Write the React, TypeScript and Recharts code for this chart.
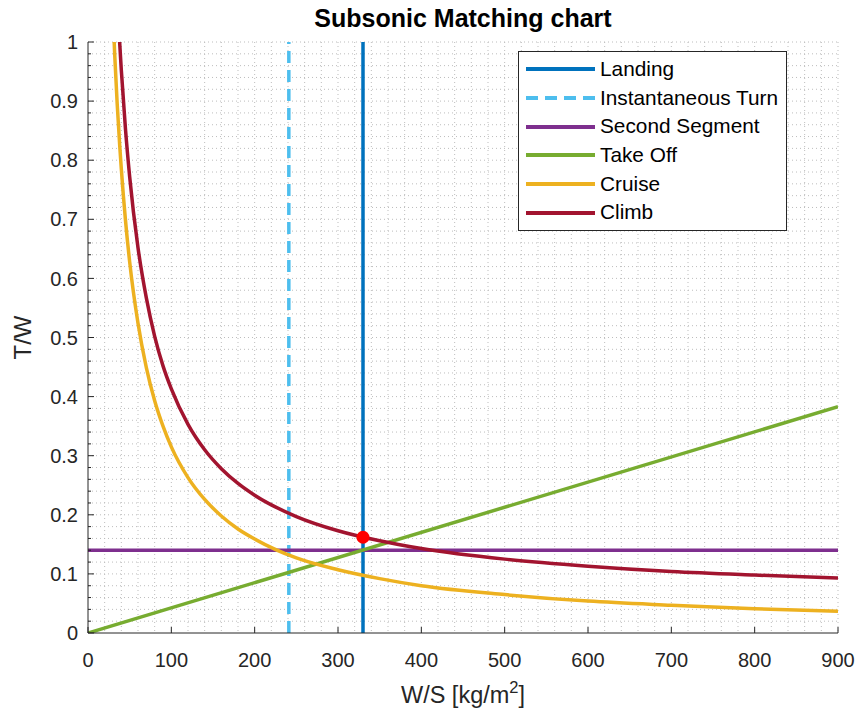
import React from 'react';
import { LineChart, Line, XAxis, YAxis, CartesianGrid, Legend, ReferenceDot, Label } from 'recharts';

const FONT = '"Liberation Sans", Arial, Helvetica, sans-serif';
const AXIS_COLOR = '#262626';

// ---- Data ----
const curveWS = [29, 32, 35, 38, 40, 45, 50, 60, 70, 80, 90, 100, 120, 140, 160, 180, 200, 250, 300, 350, 400, 500, 600, 700, 800, 900];
const cruiseTW = [1.082, 0.98, 0.896, 0.826, 0.785, 0.698, 0.628, 0.524, 0.449, 0.393, 0.35, 0.315, 0.263, 0.226, 0.198, 0.176, 0.159, 0.127, 0.107, 0.092, 0.08, 0.065, 0.054, 0.047, 0.041, 0.037];
const climbTW = [1.293, 1.176, 1.08, 0.999, 0.952, 0.852, 0.772, 0.652, 0.567, 0.502, 0.452, 0.413, 0.353, 0.31, 0.278, 0.253, 0.233, 0.197, 0.173, 0.156, 0.143, 0.125, 0.113, 0.104, 0.098, 0.093];
const takeOffWS = [0, 900];
const takeOffTW = [0, 0.383];
const secondSegmentWS = [0, 900];
const secondSegmentTW = [0.14, 0.14];
const landingWS = [330, 330];
const landingTW = [0, 1];
const turnWS = [241, 241];
const turnTW = [0, 1];
const designPointWS = 330;
const designPointTW = 0.162;

// ---- Ticks / grid values ----
const xTicks = [0, 100, 200, 300, 400, 500, 600, 700, 800, 900];
const yTicks = [0, 0.02, 0.04, 0.06, 0.08, 0.1, 0.12, 0.14, 0.16, 0.18, 0.2, 0.22, 0.24, 0.26, 0.28, 0.3, 0.32, 0.34, 0.36, 0.38, 0.4, 0.42, 0.44, 0.46, 0.48, 0.5, 0.52, 0.54, 0.56, 0.58, 0.6, 0.62, 0.64, 0.66, 0.68, 0.7, 0.72, 0.74, 0.76, 0.78, 0.8, 0.82, 0.84, 0.86, 0.88, 0.9, 0.92, 0.94, 0.96, 0.98, 1];
const xGridValues = [20, 40, 60, 80, 100, 120, 140, 160, 180, 200, 220, 240, 260, 280, 300, 320, 340, 360, 380, 400, 420, 440, 460, 480, 500, 520, 540, 560, 580, 600, 620, 640, 660, 680, 700, 720, 740, 760, 780, 800, 820, 840, 860, 880, 900];
const yGridValues = yTicks.filter((v) => v > 0);

const toPoints = (xs: number[], ys: number[]) => xs.map((x, i) => ({ x, y: ys[i] }));

const series = [
  { name: 'Landing', color: '#0072BD', dash: undefined as string | undefined, data: toPoints(landingWS, landingTW), curve: 'linear' },
  { name: 'Instantaneous Turn', color: '#4DBEEE', dash: '12 7', data: toPoints(turnWS, turnTW), curve: 'linear' },
  { name: 'Second Segment', color: '#7E2F8E', dash: undefined, data: toPoints(secondSegmentWS, secondSegmentTW), curve: 'linear' },
  { name: 'Take Off', color: '#77AC30', dash: undefined, data: toPoints(takeOffWS, takeOffTW), curve: 'linear' },
  { name: 'Cruise', color: '#EDB120', dash: undefined, data: toPoints(curveWS, cruiseTW), curve: 'monotone' },
  { name: 'Climb', color: '#A2142F', dash: undefined, data: toPoints(curveWS, climbTW), curve: 'monotone' },
];

const X_TICK_MARGIN = 20;
const Y_TICK_MARGIN = 10;

const XTick = (props: any) => {
  const { x, y, payload } = props;
  const axisY = y - X_TICK_MARGIN;
  return (
    <g>
      <line x1={x} x2={x} y1={axisY} y2={axisY - 6} stroke={AXIS_COLOR} strokeWidth={1} />
      <text x={x} y={y} dy="0.71em" textAnchor="middle" fontSize={20} fontFamily={FONT} fill={AXIS_COLOR}>
        {payload.value}
      </text>
    </g>
  );
};

const YTick = (props: any) => {
  const { x, y, payload } = props;
  const v = payload.value as number;
  const axisX = x + Y_TICK_MARGIN;
  const major = Math.abs(v * 10 - Math.round(v * 10)) < 1e-6;
  return (
    <g>
      <line x1={axisX} x2={axisX + (major ? 6 : 3)} y1={y} y2={y} stroke={AXIS_COLOR} strokeWidth={1} />
      {major && (
        <text x={x} y={y} dy="0.355em" textAnchor="end" fontSize={20} fontFamily={FONT} fill={AXIS_COLOR}>
          {String(Math.round(v * 10) / 10)}
        </text>
      )}
    </g>
  );
};

const LegendBox = () => (
  <div
    style={{
      border: '1px solid #262626',
      background: '#fff',
      padding: '3px 0',
      width: 269,
      boxSizing: 'border-box',
    }}
  >
    {series.map((s) => (
      <div key={s.name} style={{ display: 'flex', alignItems: 'center', height: 28.7 }}>
        <svg width={76} height={10} style={{ display: 'block' }}>
          <line x1={7} x2={76} y1={5} y2={5} stroke={s.color} strokeWidth={4} strokeDasharray={s.dash} />
        </svg>
        <span style={{ marginLeft: 5, fontSize: 20.8, fontFamily: FONT, color: '#000', lineHeight: 1 }}>{s.name}</span>
      </div>
    ))}
  </div>
);

const XLabel = (props: any) => {
  const vb = props.viewBox || {};
  const cx = vb.x + vb.width / 2;
  return (
    <text x={cx} y={703} textAnchor="middle" fontSize={23.5} fontFamily={FONT} fill={AXIS_COLOR}>
      W/S [kg/m
      <tspan dy={-10} fontSize={16.5}>2</tspan>
      <tspan dy={10}>]</tspan>
    </text>
  );
};

const YLabel = (props: any) => {
  const vb = props.viewBox || {};
  const cy = vb.y + vb.height / 2;
  return (
    <text x={31} y={cy} transform={`rotate(-90, 31, ${cy})`} textAnchor="middle" fontSize={24} fontFamily={FONT} fill={AXIS_COLOR}>
      T/W
    </text>
  );
};

export default function App() {
  return (
    <div style={{ position: 'absolute', left: 0, top: 0, width: 861, height: 720, background: '#fff' }}>
      <LineChart width={861} height={720} margin={{ top: 42, right: 23, bottom: 0, left: 0 }}>
        <CartesianGrid
          horizontalValues={yGridValues}
          verticalValues={xGridValues}
          stroke="#bdbdbd"
          strokeDasharray="1 3"
          strokeWidth={1}
        />
        <XAxis
          dataKey="x"
          type="number"
          domain={[0, 900]}
          ticks={xTicks}
          interval={0}
          allowDataOverflow
          height={87}
          tickSize={0}
          tickMargin={X_TICK_MARGIN}
          tickLine={false}
          axisLine={{ stroke: AXIS_COLOR, strokeWidth: 1 }}
          tick={<XTick />}
        >
          <Label content={<XLabel />} />
        </XAxis>
        <YAxis
          dataKey="y"
          type="number"
          domain={[0, 1]}
          ticks={yTicks}
          interval={0}
          allowDataOverflow
          width={88}
          tickSize={0}
          tickMargin={Y_TICK_MARGIN}
          tickLine={false}
          axisLine={{ stroke: AXIS_COLOR, strokeWidth: 1 }}
          tick={<YTick />}
        >
          <Label content={<YLabel />} />
        </YAxis>
        <Legend
          layout="vertical"
          align="center"
          verticalAlign="middle"
          content={<LegendBox />}
          wrapperStyle={{ left: 518, top: 51, width: 269 }}
        />
        {series.map((s) => (
          <Line
            key={s.name}
            name={s.name}
            data={s.data}
            dataKey="y"
            type={s.curve as any}
            stroke={s.color}
            strokeWidth={3.5}
            strokeDasharray={s.dash}
            dot={false}
            activeDot={false}
            isAnimationActive={false}
          />
        ))}
        <ReferenceDot x={designPointWS} y={designPointTW} r={6.5} fill="#FF0000" stroke="none" />
      </LineChart>
      <svg width={861} height={40} style={{ position: 'absolute', left: 0, top: 0, pointerEvents: 'none' }}>
        <text x={463} y={27} textAnchor="middle" fontSize={25} fontWeight="bold" fontFamily={FONT} fill="#000">
          Subsonic Matching chart
        </text>
      </svg>
    </div>
  );
}
